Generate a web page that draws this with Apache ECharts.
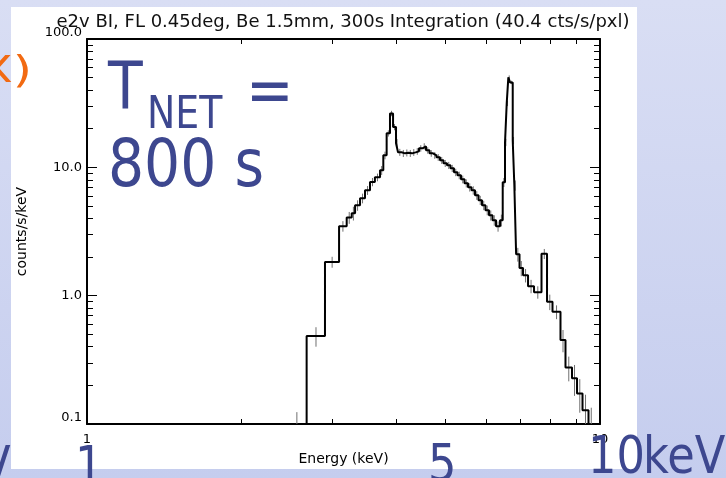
<!DOCTYPE html>
<html>
<head>
<meta charset="utf-8">
<script src="https://cdn.jsdelivr.net/npm/echarts@6/dist/echarts.min.js"></script>
<style>
  html, body { margin: 0; padding: 0; }
  #chart { width: 726px; height: 478px; }
</style>
</head>
<body>
<div id="chart"></div>
<script>
// Spectrum bins: edges in keV, rate per bin in counts/s/keV
const binEdges = [
  2.45, 2.68, 2.91, 3.10, 3.208, 3.281, 3.331, 3.406, 3.483, 3.562,
  3.641, 3.726, 3.781, 3.838, 3.896, 3.950, 4.003, 4.039, 4.104, 4.169,
  4.235, 4.301, 4.369, 4.438, 4.508, 4.579, 4.652, 4.726, 4.800, 4.876,
  4.953, 5.032, 5.111, 5.192, 5.275, 5.358, 5.444, 5.530, 5.617, 5.706,
  5.797, 5.888, 5.981, 6.076, 6.172, 6.271, 6.385, 6.462, 6.529, 6.579,
  6.627, 6.678, 6.759, 6.808, 6.863, 6.968, 7.079, 7.240, 7.437, 7.691,
  7.884, 8.080, 8.375, 8.565, 8.819, 9.020, 9.245, 9.497, 9.734
];
const binRates = [
  0.088, 0.484, 1.83, 3.48, 4.06, 4.39, 5.06, 5.74, 6.62,
  7.69, 8.36, 9.48, 12.4, 18.4, 26.3, 20.6, 15.4, 13.1, 12.85,
  12.97, 12.85, 13.08, 13.32, 14.06, 14.57, 13.56, 12.85, 12.40, 11.96,
  11.34, 10.74, 10.36, 9.82, 9.14, 8.66, 8.06, 7.51, 6.99, 6.62,
  6.05, 5.54, 5.06, 4.63, 4.23, 3.87, 3.47, 3.87, 7.64, 15.65,
  31.5, 50.2, 45.9, 16.2, 7.24, 2.10, 1.64, 1.44, 1.186, 1.065,
  2.12, 0.895, 0.748, 0.451, 0.275, 0.227, 0.173, 0.128, 0.097
];
// Integration time used for the Poisson error bars (s)
const EXPOSURE_S = 300;

const xLabelTicks = [1, 10];
const xMinorTicks = [2, 3, 4, 5, 6, 7, 8, 9];
const yLabelTicks = [0.1, 1, 10, 100];
const yMinorTicks = [0.2, 0.3, 0.4, 0.5, 0.6, 0.7, 0.8, 0.9,
                     2, 3, 4, 5, 6, 7, 8, 9,
                     20, 30, 40, 50, 60, 70, 80, 90];

const titleText = 'e2v BI, FL 0.45deg, Be 1.5mm, 300s Integration (40.4 cts/s/pxl)';
const xName = 'Energy (keV)';
const yName = 'counts/s/keV';

const X_MIN = 1, X_MAX = 10;
const Y_MIN = 0.1, Y_MAX = 100;

// Step outline: each bin is held at its rate up to the next edge
const stepData = binRates.map((r, i) => [binEdges[i], r]);
stepData.push([binEdges[binEdges.length - 1], binRates[binRates.length - 1]]);

// Error bars at bin centres, sigma = sqrt(rate / (dE * T))
const errData = binRates.map((r, i) => {
  const lo = binEdges[i], hi = binEdges[i + 1];
  const s = Math.sqrt(r / ((hi - lo) * EXPOSURE_S));
  return [(lo + hi) / 2, Math.max(r - s, Y_MIN), Math.min(r + s, Y_MAX)];
}).filter(d => d[2] > d[1]);

const FONT = 'DejaVu Sans';
const INK = '#3d478f';
const axisText = { color: '#000', fontFamily: FONT, fontSize: 13 };
const boxLine = { show: true, onZero: false, lineStyle: { color: '#000', width: 2 } };
const lg = Math.log10;

function logAxis(extra) {
  return Object.assign({
    type: 'log', logBase: 10, splitLine: { show: false },
    axisTick: { show: false }, axisLabel: { show: false },
    axisLine: { show: false, onZero: false }
  }, extra);
}

// Tick-only axes laid out in decades (log10 of the data value)
function tickAxis(position, min, max, ticks, len) {
  return {
    type: 'value', position: position, min: min, max: max,
    splitLine: { show: false }, axisLabel: { show: false },
    axisLine: { show: false, onZero: false },
    axisTick: { show: true, inside: true, length: len, customValues: ticks.map(lg),
      lineStyle: { color: '#000', width: 1 } }
  };
}

function overlay(text, x, y, size, color, sx) {
  return {
    type: 'text', x: x, y: y, scaleX: sx || 1, z: 100, silent: true,
    style: {
      text: text, fontFamily: FONT, fontSize: size, fill: color,
      align: 'left', textAlign: 'left', verticalAlign: 'middle', textVerticalAlign: 'middle'
    }
  };
}

const chart = echarts.init(document.getElementById('chart'), null, { renderer: 'canvas' });
chart.setOption({
  animation: false,
  grid: { left: 87, top: 39, width: 513, height: 385, outerBoundsMode: 'none', containLabel: false },
  graphic: [
    { type: 'rect', z: -100, silent: true, shape: { x: 0, y: 0, width: 726, height: 478 },
      style: { fill: new echarts.graphic.LinearGradient(0, 0, 0, 1, [
        { offset: 0, color: '#d9def4' }, { offset: 1, color: '#c5cdee' }]) } },
    { type: 'rect', z: -99, silent: true, shape: { x: 11, y: 7, width: 626, height: 462 },
      style: { fill: '#ffffff' } },
    { type: 'text', x: 343, y: 22, z: 10, silent: true,
      style: { text: titleText, fontFamily: FONT, fontSize: 18, fill: '#111',
        align: 'center', textAlign: 'center', verticalAlign: 'middle', textVerticalAlign: 'middle' } },
    overlay('X)', -21, 72, 38, '#f26a12', 1.3),
    overlay('T', 108, 92, 66, INK, 0.86),
    overlay('NET', 147, 117, 44, INK, 0.86),
    overlay('=', 246, 95, 66, INK, 0.86),
    overlay('800 s', 108, 169, 66, INK, 0.86),
    overlay('V', -20, 469, 52, INK, 0.86),
    overlay('1', 75, 469, 52, INK, 0.86),
    overlay('5', 428, 467, 52, INK, 0.86),
    overlay('10', 588, 459, 52, INK, 0.86),
    overlay('keV', 643, 459, 52, INK, 0.86)
  ],
  xAxis: [
    logAxis({
      position: 'bottom', min: X_MIN, max: X_MAX, axisLine: boxLine,
      axisLabel: Object.assign({ show: true, margin: 9, customValues: xLabelTicks,
        formatter: v => String(Math.round(v)) }, axisText),
      name: xName, nameLocation: 'middle', nameGap: 28,
      nameTextStyle: { color: '#000', fontFamily: FONT, fontSize: 14 }
    }),
    logAxis({ position: 'top', min: X_MIN, max: X_MAX, axisLine: boxLine }),
    tickAxis('bottom', lg(X_MIN), lg(X_MAX), xMinorTicks, 5),
    tickAxis('top', lg(X_MIN), lg(X_MAX), xMinorTicks, 5)
  ],
  yAxis: [
    logAxis({
      position: 'left', min: Y_MIN, max: Y_MAX, axisLine: boxLine,
      axisLabel: Object.assign({ show: true, margin: 5, customValues: yLabelTicks,
        verticalAlignMinLabel: 'bottom', verticalAlignMaxLabel: 'bottom',
        formatter: v => Number(v).toFixed(1) }, axisText),
      name: yName, nameLocation: 'middle', nameGap: 58, nameRotate: 90,
      nameTextStyle: { color: '#000', fontFamily: FONT, fontSize: 14 }
    }),
    logAxis({ position: 'right', min: Y_MIN, max: Y_MAX, axisLine: boxLine }),
    tickAxis('left', lg(Y_MIN), lg(Y_MAX), yLabelTicks, 10),
    tickAxis('left', lg(Y_MIN), lg(Y_MAX), yMinorTicks, 6),
    tickAxis('right', lg(Y_MIN), lg(Y_MAX), yLabelTicks, 10),
    tickAxis('right', lg(Y_MIN), lg(Y_MAX), yMinorTicks, 6)
  ],
  series: [
    {
      type: 'custom', name: 'errors', xAxisIndex: 0, yAxisIndex: 0, z: 3,
      data: errData, encode: { x: 0, y: [1, 2] }, silent: true,
      renderItem: function (params, api) {
        const a = api.coord([api.value(0), api.value(1)]);
        const b = api.coord([api.value(0), api.value(2)]);
        return { type: 'line', shape: { x1: a[0], y1: a[1], x2: b[0], y2: b[1] },
          style: { stroke: '#707070', lineWidth: 1 } };
      }
    },
    {
      type: 'line', name: 'spectrum', xAxisIndex: 0, yAxisIndex: 0, z: 4,
      data: stepData, step: 'end', symbol: 'none', clip: true, silent: true,
      lineStyle: { color: '#000', width: 2 }
    }
  ]
});
</script>
</body>
</html>
